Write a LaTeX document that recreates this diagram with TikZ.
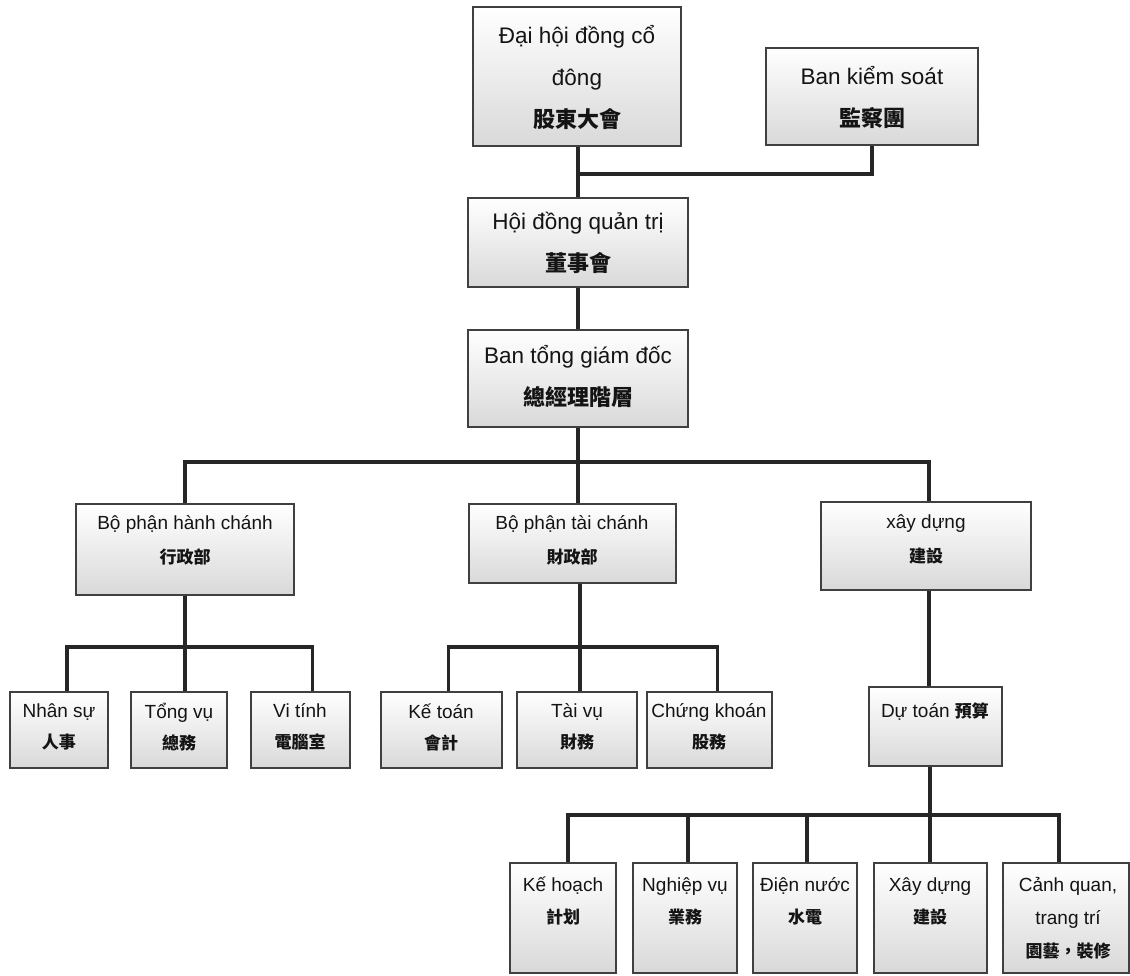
\documentclass[tikz,border=0pt]{standalone}
\usepackage{fontspec}
\setmainfont{Liberation Sans}
\newfontfamily\cjk{Noto Sans CJK TC}
\usetikzlibrary{calc}
\tikzset{
  box/.style={draw=black!75, line width=1.8pt, top color=white, bottom color=black!15, inner sep=0pt},
  conn/.style={line width=3.4pt, draw=black!85},
  txt/.style={align=center, text=black!92, inner sep=0pt},
  lvA/.style={font=\fontsize{22.5}{42}\selectfont},
  lvB/.style={font=\fontsize{19}{34}\selectfont},
  lvC/.style={font=\fontsize{19}{31}\selectfont},
  lvD/.style={font=\fontsize{19}{32}\selectfont},
}
\newcommand\obox[5]{\node[box, minimum width={(#4-#2)*1pt}, minimum height={(#5-#3)*1pt}] (#1) at ({(#2+#4)/2},{(#3+#5)/2}) {};}
\newcommand\zhA[1]{{\cjk\bfseries\fontsize{22}{42}\selectfont #1}}
\newcommand\zhB[1]{{\cjk\bfseries\fontsize{17}{34}\selectfont #1}}
\begin{document}
\begin{tikzpicture}[x=1pt,y=-1pt]
\fill[white] (0,0) rectangle (1130,975);
\useasboundingbox (0,0) rectangle (1130,975);
% boxes
\obox{dhd}{473}{7}{681}{146}
\obox{bks}{766}{48}{978}{145}
\obox{hdq}{468}{198}{688}{287}
\obox{btg}{468}{330}{688}{427}
\obox{hc}{76}{504}{294}{595}
\obox{tc}{469}{504}{676}{583}
\obox{xd}{821}{502}{1031}{590}
\obox{ns}{10}{692}{108}{768}
\obox{tv}{131}{692}{227}{768}
\obox{vt}{251}{692}{350}{768}
\obox{kt}{381}{692}{502}{768}
\obox{tvu}{517}{692}{637}{768}
\obox{ck}{647}{692}{772}{768}
\obox{dt}{869}{687}{1002}{766}
\obox{kh}{510}{863}{616}{973}
\obox{nv}{633}{863}{737}{973}
\obox{dn}{753}{863}{857}{973}
\obox{xd2}{874}{863}{987}{973}
\obox{cq}{1003}{863}{1129}{973}
% texts
\node[txt,lvA] (dhd-t) at (577,77) {Đại hội đồng cổ\\đông\\\zhA{股東大會}};
\node[txt,lvA] (bks-t) at (872,97) {Ban kiểm soát\\\zhA{監察團}};
\node[txt,lvA] (hdq-t) at (578,243) {Hội đồng quản trị\\\zhA{董事會}};
\node[txt,lvA] (btg-t) at (578,376) {Ban tổng giám đốc\\\zhA{總經理階層}};
\node[txt,lvB] (hc-t) at (185,540) {Bộ phận hành chánh\\\zhB{行政部}};
\node[txt,lvB] (tc-t) at (572,540) {Bộ phận tài chánh\\\zhB{財政部}};
\node[txt,lvB] (xd-t) at (926,539) {xây dựng\\\zhB{建設}};
\node[txt,lvC] (ns-t) at (59,727) {Nhân sự\\\zhB{人事}};
\node[txt,lvC] (tv-t) at (179,727) {Tổng vụ\\\zhB{總務}};
\node[txt,lvC] (vt-t) at (300,727) {Vi tính\\\zhB{電腦室}};
\node[txt,lvC] (kt-t) at (441,727) {Kế toán\\\zhB{會計}};
\node[txt,lvC] (tvu-t) at (577,727) {Tài vụ\\\zhB{財務}};
\node[txt,lvC] (ck-t) at (709,727) {Chứng khoán\\\zhB{股務}};
\node[txt,lvC] (dt-t) at (935,712) {Dự toán \zhB{預算}};
\node[txt,lvD] (kh-t) at (563,901) {Kế hoạch\\\zhB{計划}};
\node[txt,lvD] (nv-t) at (685,901) {Nghiệp vụ\\\zhB{業務}};
\node[txt,lvD] (dn-t) at (805,901) {Điện nước\\\zhB{水電}};
\node[txt,lvD] (xd2-t) at (930,901) {Xây dựng\\\zhB{建設}};
\node[txt,font=\fontsize{19}{33}\selectfont] (cq-t) at (1068,918) {Cảnh quan,\\trang trí\\\zhB{園藝，裝修}};
% connectors
\coordinate (t) at (578,174);
\draw[conn] (dhd.south -| t) -- (hdq.north -| t);
\draw[conn] (bks.south) |- (t);
\draw[conn] (hdq.south -| t) -- (btg.north -| t);
\coordinate (b1) at (578,462);
\draw[conn] (btg.south -| b1) -- (b1);
\draw[conn] (hc.north) |- (b1) -| ([xshift=3pt]xd.north);
\draw[conn] (b1) -- (b1 |- tc.north);
\coordinate (b2) at (185,647);
\draw[conn] (hc.south) -- (b2);
\draw[conn] ([xshift=8pt]ns.north) |- (b2) -| ([xshift=12pt]vt.north);
\draw[conn] (b2) -- (b2 |- tv.north);
\coordinate (b3) at (580,647);
\draw[conn] (tc.south -| b3) -- (b3);
\draw[conn] ([xshift=7pt]kt.north) |- (b3) -| ([xshift=8pt]ck.north);
\draw[conn] (b3) -- (b3 |- tvu.north);
\draw[conn] ([xshift=3pt]xd.south) -- ([xshift=3pt]xd.south |- dt.north);
\coordinate (b4) at (930,815);
\draw[conn] (dt.south -| b4) -- (b4);
\draw[conn] ([xshift=5pt]kh.north) |- (b4) -| ([xshift=-7pt]cq.north);
\draw[conn] ([xshift=3pt]nv.north) -- ([xshift=3pt]nv.north |- b4);
\draw[conn] ([xshift=2pt]dn.north) -- ([xshift=2pt]dn.north |- b4);
\draw[conn] (b4) -- (b4 |- xd2.north);
\end{tikzpicture}
\end{document}
